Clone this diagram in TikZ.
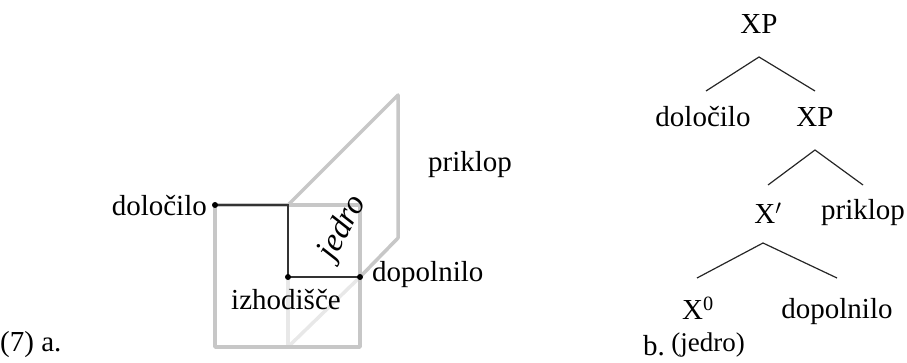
\documentclass[tikz,border=0pt]{standalone}
\usepackage{fontspec}
\setmainfont{Liberation Serif}
\begin{document}
\begin{tikzpicture}[x=1pt,y=-1pt,
  lbl/.style={inner sep=0pt,font=\fontsize{29}{34}\selectfont},
  gr/.style={draw=black!22,line width=3.5pt,line join=round},
  grl/.style={draw=black!9,line width=3.5pt},
  blk/.style={draw=black!80,line width=1.6pt},
  dot/.style={circle,fill=black,inner sep=0pt,minimum size=6pt},
  br/.style={draw=black!85,line width=1.2pt}]
\useasboundingbox (0,0) rectangle (907,363);
% left figure
\coordinate (A) at (215,205);
\coordinate (B) at (288,205);
\coordinate (C) at (288,277);
\coordinate (D) at (360,277);
\coordinate (E) at (360,205);
\coordinate (F) at (360,347);
\coordinate (G) at (215,347);
\coordinate (H) at (288,347);
\coordinate (P1) at (398,95);
\coordinate (P2) at (398,238);
\draw[grl] (C) -- (H);
\draw[grl] (D) -- (H);
\draw[gr] (A) -- (E) -- (F) -- (G) -- cycle;
\draw[gr] (B) -- (P1) -- (P2) -- (D);
\draw[blk] (A) -- (B) -- (C) -- (D);
\node[dot] (dA) at (A) {};
\node[dot] (dC) at (C) {};
\node[dot] (dD) at (D) {};
\node[lbl,anchor=east] (ldol) at (207,206) {določilo};
\node[lbl] (lpri) at (470,165) {priklop};
\node[lbl,anchor=west] (ldop) at (372,275) {dopolnilo};
\node[lbl] (lizh) at (286,300) {izhodišče};
\node[lbl,rotate=62,font=\fontsize{33}{38}\selectfont\itshape] (ljed) at (343,228) {jedro};
\node[lbl,anchor=west] (l7) at (0,345) {(7) a.};
% tree
\node[lbl] (xp1) at (759,24) {XP};
\node[lbl] (dol) at (703,117) {določilo};
\node[lbl] (xp2) at (815,117) {XP};
\node[lbl] (xb) at (768,213) {X$'$};
\node[lbl] (pri) at (863,213) {priklop};
\node[lbl] (x0) at (698,308) {X\textsuperscript{0}};
\node[lbl] (dop) at (837,312) {dopolnilo};
\node[lbl,font=\fontsize{27}{32}\selectfont] (jed) at (708,345) {(jedro)};
\node[lbl,anchor=west] (lb) at (643,346) {b.};
\coordinate (t1) at (759,57);
\coordinate (t1l) at (706,91);
\coordinate (t1r) at (815,91);
\coordinate (t2) at (815,150);
\coordinate (t2l) at (768,185);
\coordinate (t2r) at (863,185);
\coordinate (t3) at (763,243);
\coordinate (t3l) at (697,278);
\coordinate (t3r) at (837,278);
\draw[br] (t1l) -- (t1) -- (t1r);
\draw[br] (t2l) -- (t2) -- (t2r);
\draw[br] (t3l) -- (t3) -- (t3r);
\end{tikzpicture}
\end{document}
